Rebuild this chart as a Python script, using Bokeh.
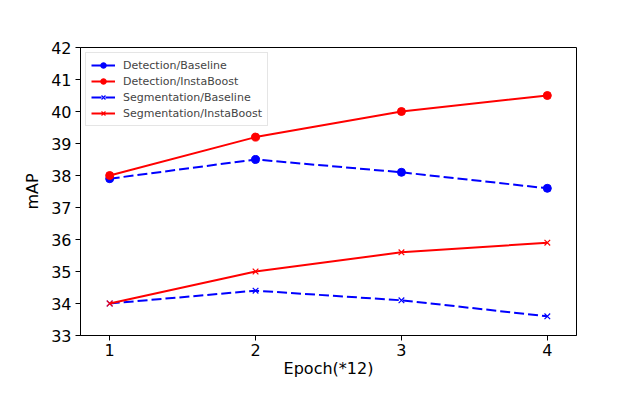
from bokeh.plotting import figure
from bokeh.models import Range1d, FixedTicker
from bokeh.embed import file_html
from bokeh.resources import INLINE

epochs = [1, 2, 3, 4]
det_base = [37.9, 38.5, 38.1, 37.6]
det_insta = [38.0, 39.2, 40.0, 40.5]
seg_base = [34.0, 34.4, 34.1, 33.6]
seg_insta = [34.0, 35.0, 35.6, 35.9]
x_ticks = [1, 2, 3, 4]
y_ticks = [33, 34, 35, 36, 37, 38, 39, 40, 41, 42]

p = figure(width=624, height=380, output_backend="svg", toolbar_location=None,
           x_range=Range1d(0.8, 4.2), y_range=Range1d(33, 42),
           min_border_left=80, min_border_right=48, min_border_top=47, min_border_bottom=36)

p.grid.visible = False
p.outline_line_color = "black"
p.outline_line_width = 1
p.background_fill_color = "white"
p.border_fill_color = "white"

series = [
    (det_base, "blue", "dashed", "circle", "Detection/Baseline"),
    (det_insta, "red", "solid", "circle", "Detection/InstaBoost"),
    (seg_base, "blue", "dashed", "x", "Segmentation/Baseline"),
    (seg_insta, "red", "solid", "x", "Segmentation/InstaBoost"),
]
for ys, col, dash, mk, lab in series:
    p.line(epochs, ys, line_color=col, line_width=2,
           line_dash="10 4" if dash == "dashed" else "solid", legend_label=lab)
    if mk == "circle":
        p.scatter(epochs, ys, marker="circle", size=8, fill_color=col, line_color=col, legend_label=lab)
    else:
        p.scatter(epochs, ys, marker="x", size=8, line_color=col, line_width=1.2, legend_label=lab)

for ax in [p.xaxis[0], p.yaxis[0]]:
    ax.major_label_text_font = "DejaVu Sans"
    ax.major_label_text_font_size = "16px"
    ax.major_label_text_color = "black"
    ax.axis_label_text_font = "DejaVu Sans"
    ax.axis_label_text_font_size = "16px"
    ax.axis_label_text_font_style = "normal"
    ax.axis_label_text_color = "black"
    ax.major_tick_out = 5
    ax.major_tick_in = 0
    ax.minor_tick_out = 0
    ax.minor_tick_in = 0
    ax.axis_line_color = "black"
    ax.major_tick_line_color = "black"

p.xaxis.ticker = FixedTicker(ticks=x_ticks)
p.yaxis.ticker = FixedTicker(ticks=y_ticks)
p.xaxis.axis_label = "Epoch(*12)"
p.yaxis.axis_label = "mAP"
p.xaxis.major_label_standoff = 3
p.yaxis.major_label_standoff = 4
p.xaxis.axis_label_standoff = 0
p.yaxis.axis_label_standoff = 6

lg = p.legend[0]
lg.location = "top_left"
lg.label_text_font = "DejaVu Sans"
lg.label_text_font_size = "11px"
lg.label_height = 14
lg.glyph_height = 14
lg.glyph_width = 24
lg.spacing = 2
lg.padding = 5
lg.margin = 5
lg.border_line_color = "#cccccc"
lg.border_line_width = 1
lg.background_fill_alpha = 0.8
lg.label_standoff = 8

open("out.html", "w").write(file_html(p, INLINE))
